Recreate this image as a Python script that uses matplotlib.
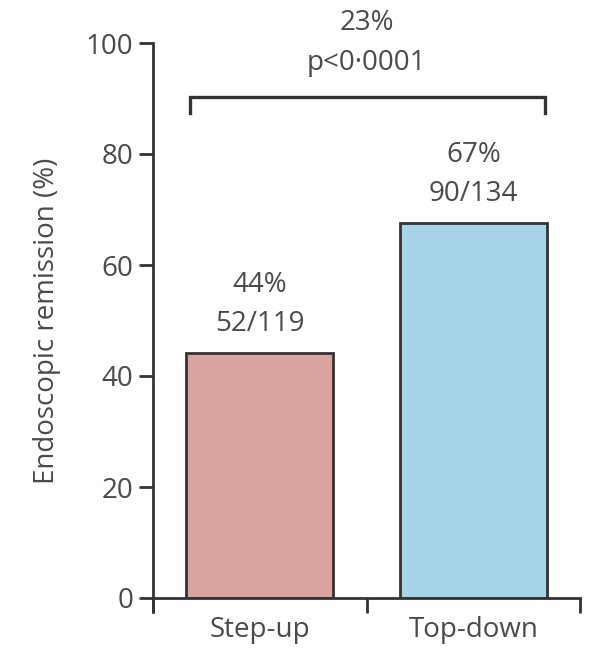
import matplotlib
matplotlib.use("Agg")
import matplotlib.pyplot as plt

categories = ["Step-up", "Top-down"]
values = [44.1, 67.6]
pct_labels = ["44%", "67%"]
frac_labels = ["52/119", "90/134"]
diff_label = "23%"
p_label = "p<0·0001"
yticks = [0, 20, 40, 60, 80, 100]
colors = ["#D9A3A0", "#A8D4E8"]

plt.rcParams['font.family'] = ['Open Sans', 'DejaVu Sans']
txt = "#4a4a4a"
axc = "#333333"
fs = 20

fig = plt.figure(figsize=(5.95, 6.5), dpi=100)
ax = fig.add_axes([153/595, 1 - 598/650, (580 - 153)/595, (598 - 43)/650])
ax.set_xlim(0, 2)
ax.set_ylim(0, 100)

xpos = [0.5, 1.5]
ax.bar(xpos, values, width=0.69, color=colors, edgecolor=axc, linewidth=2, zorder=2)

for x, v, p, f in zip(xpos, values, pct_labels, frac_labels):
    ax.text(x, v + 12.3, p, ha='center', va='center', fontsize=fs, color=txt)
    ax.text(x, v + 5.2, f, ha='center', va='center', fontsize=fs, color=txt)

# bracket
bx0, bx1, btop, bbot = 0.173, 1.836, 90.3, 87.3
ax.plot([bx0, bx0, bx1, bx1], [bbot, btop, btop, bbot], color=axc, lw=2.4,
        clip_on=False, solid_joinstyle='miter')
ax.text(1.0, 103.6, diff_label, ha='center', va='center', fontsize=fs, color=txt,
        clip_on=False)
ax.text(1.0, 96.4, p_label, ha='center', va='center', fontsize=fs, color=txt,
        clip_on=False)

for s in ['top', 'right']:
    ax.spines[s].set_visible(False)
ax.spines['left'].set_linewidth(2)
ax.spines['bottom'].set_linewidth(2)
ax.spines['left'].set_color(axc)
ax.spines['bottom'].set_color(axc)

# y axis extends slightly below zero
ax.plot([0, 0], [0, -2.7], color=axc, lw=2, clip_on=False, solid_capstyle='butt')

ax.set_yticks(yticks)
ax.set_yticklabels([str(t) for t in yticks])
ax.tick_params(axis='y', direction='out', length=10, width=2, color=axc,
               labelsize=fs, labelcolor=txt, pad=4)

ax.set_xticks([0, 1, 2])
ax.set_xticklabels(["", "", ""])
ax.tick_params(axis='x', which='major', direction='out', length=11, width=2, color=axc)
ax.set_xticks(xpos, minor=True)
ax.set_xticklabels(categories, minor=True)
ax.tick_params(axis='x', which='minor', length=0, labelsize=fs, labelcolor=txt, pad=13)

ax.set_ylabel("Endoscopic remission (%)", fontsize=fs, color=txt, labelpad=18)

fig.savefig("out.png", dpi=100)
